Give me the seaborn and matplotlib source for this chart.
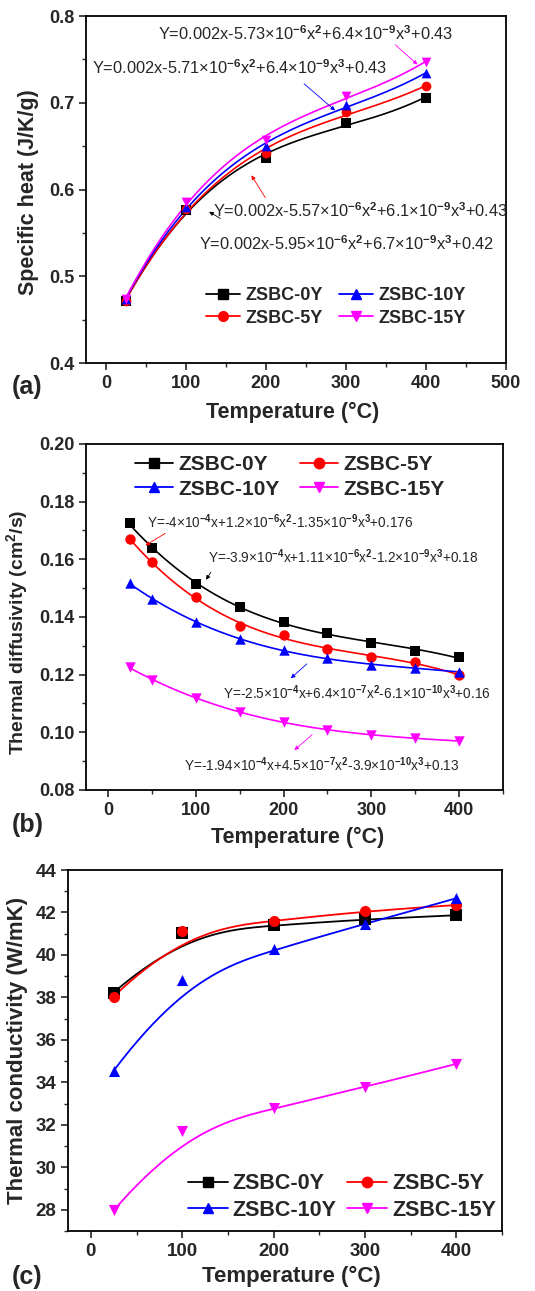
import numpy as np
import seaborn as sns
import matplotlib.pyplot as plt
from matplotlib.lines import Line2D
from matplotlib.ticker import MultipleLocator

sns.set_theme(style='ticks')
plt.rcParams['font.family'] = ['Liberation Sans', 'DejaVu Sans']
plt.rcParams['font.weight'] = 'bold'
plt.rcParams['axes.labelweight'] = 'bold'
plt.rcParams['mathtext.fontset'] = 'custom'
plt.rcParams['mathtext.rm'] = 'Liberation Sans'
plt.rcParams['mathtext.it'] = 'Liberation Sans:italic'
plt.rcParams['mathtext.bf'] = 'Liberation Sans:bold'

names = ['ZSBC-0Y', 'ZSBC-5Y', 'ZSBC-10Y', 'ZSBC-15Y']
colors = ['black', 'red', 'blue', 'magenta']
markers = ['s', 'o', '^', 'v']

# (a) specific heat
temp_a = [25, 100, 200, 300, 400]
cp_0y = [0.472, 0.576, 0.636, 0.677, 0.706]
cp_5y = [0.472, 0.577, 0.642, 0.689, 0.719]
cp_10y = [0.474, 0.580, 0.650, 0.697, 0.734]
cp_15y = [0.474, 0.586, 0.657, 0.708, 0.747]

# (b) thermal diffusivity
temp_b = [25, 50, 100, 150, 200, 250, 300, 350, 400]
td_0y = [0.1725, 0.1638, 0.1514, 0.1436, 0.1382, 0.1343, 0.1311, 0.1283, 0.1260]
td_5y = [0.1670, 0.1590, 0.1468, 0.1369, 0.1338, 0.1290, 0.1260, 0.1243, 0.1198]
td_10y = [0.1517, 0.1462, 0.1384, 0.1323, 0.1286, 0.1256, 0.1234, 0.1222, 0.1210]
td_15y = [0.1225, 0.1182, 0.1118, 0.1072, 0.1036, 0.1008, 0.0991, 0.0979, 0.0970]

# (c) thermal conductivity
temp_c = [25, 100, 200, 300, 400]
tc_0y = [38.23, 41.02, 41.40, 41.68, 41.87]
tc_5y = [38.04, 41.13, 41.60, 42.07, 42.35]
tc_10y = [34.55, 38.82, 40.27, 41.46, 42.67]
tc_15y = [27.97, 31.69, 32.78, 33.77, 34.87]

eq_a = ['Y=0.002x-5.95×10$^{-6}$x$^{2}$+6.7×10$^{-9}$x$^{3}$+0.42',
        'Y=0.002x-5.57×10$^{-6}$x$^{2}$+6.1×10$^{-9}$x$^{3}$+0.43',
        'Y=0.002x-5.71×10$^{-6}$x$^{2}$+6.4×10$^{-9}$x$^{3}$+0.43',
        'Y=0.002x-5.73×10$^{-6}$x$^{2}$+6.4×10$^{-9}$x$^{3}$+0.43']
eq_b = ['Y=-3.9×10$^{-4}$x+1.11×10$^{-6}$x$^{2}$-1.2×10$^{-9}$x$^{3}$+0.18',
        'Y=-4×10$^{-4}$x+1.2×10$^{-6}$x$^{2}$-1.35×10$^{-9}$x$^{3}$+0.176',
        'Y=-2.5×10$^{-4}$x+6.4×10$^{-7}$x$^{2}$-6.1×10$^{-10}$x$^{3}$+0.16',
        'Y=-1.94×10$^{-4}$x+4.5×10$^{-7}$x$^{2}$-3.9×10$^{-10}$x$^{3}$+0.13']


def bspline(xs, ys, n=200, k=3):
    # clamped B-spline using the data points as control points
    pts = np.column_stack([xs, ys]).astype(float)
    m = len(pts)
    knots = np.concatenate([np.zeros(k), np.linspace(0, 1, m - k + 1), np.ones(k)])
    u = np.linspace(0, 1, n)
    u[-1] -= 1e-9
    N = np.zeros((n, len(knots) - 1))
    for i in range(len(knots) - 1):
        N[:, i] = (knots[i] <= u) & (u < knots[i + 1])
    for d in range(1, k + 1):
        Nn = np.zeros((n, len(knots) - 1 - d))
        for i in range(len(knots) - 1 - d):
            a = knots[i + d] - knots[i]
            b = knots[i + d + 1] - knots[i + 1]
            left = (u - knots[i]) / a * N[:, i] if a > 0 else 0
            right = (knots[i + d + 1] - u) / b * N[:, i + 1] if b > 0 else 0
            Nn[:, i] = left + right
        N = Nn
    c = N @ pts
    return c[:, 0], c[:, 1]


def poly_curve(xs, ys):
    p = np.polyfit(xs, ys, 3)
    xx = np.linspace(min(xs), max(xs), 200)
    return xx, np.polyval(p, xx)


def draw_series(ax, xs, series, curve, ms, lw):
    for ys, c, m in zip(series, colors, markers):
        cx, cy = curve(xs, ys)
        sns.lineplot(x=cx, y=cy, color=c, lw=lw, ax=ax, sort=False, estimator=None)
        sns.scatterplot(x=xs, y=ys, color=c, marker=m, s=ms ** 2, edgecolor=c,
                        linewidth=0, ax=ax, zorder=3)


def style_axes(ax, xmaj, ymaj, fs):
    ax.xaxis.set_major_locator(MultipleLocator(xmaj))
    ax.xaxis.set_minor_locator(MultipleLocator(xmaj / 2))
    ax.yaxis.set_major_locator(MultipleLocator(ymaj))
    ax.yaxis.set_minor_locator(MultipleLocator(ymaj / 2))
    ax.tick_params(which='major', direction='out', length=5, width=1.2, labelsize=fs,
                   top=False, right=False)
    ax.tick_params(which='minor', direction='out', length=3, width=1.0, top=False, right=False)
    for lab in ax.get_xticklabels() + ax.get_yticklabels():
        lab.set_fontweight('bold')
    for s in ax.spines.values():
        s.set_linewidth(1.3)
        s.set_color('black')


def handles(order, ms):
    return [Line2D([], [], color=colors[i], marker=markers[i], ms=ms, lw=1.3,
                   label=names[i]) for i in order]


fig = plt.figure(figsize=(5.35, 12.91), dpi=100)

# ---------- (a)
ax = fig.add_axes([0.1607, 0.7188, 0.785, 0.2688])
draw_series(ax, temp_a, [cp_0y, cp_5y, cp_10y, cp_15y], poly_curve, 7, 1.2)
ax.set_xlim(-25, 500)
ax.set_ylim(0.4, 0.8)
style_axes(ax, 100, 0.1, 13)
ax.set_xlabel('Temperature (°C)', fontsize=15.5, fontweight='bold')
ax.set_ylabel('Specific heat (J/K/g)', fontsize=15.5, fontweight='bold')
ax.xaxis.label.set_va('center')
ax.yaxis.label.set_va('center')
ax.xaxis.set_label_coords(0.493, -0.141)
ax.yaxis.set_label_coords(-0.138, 0.493)
txt_a = [(116, 0.538), (134, 0.576), (-17, 0.741), (65, 0.780)]
arr_a = [((146, 0.565), (126, 0.576)), ((201, 0.588), (180, 0.619)),
         ((245, 0.724), (289, 0.689)), ((359, 0.769), (392, 0.742))]
for t, (p0, p1), c, pos in zip(eq_a, arr_a, colors, txt_a):
    ax.text(pos[0], pos[1], t, fontsize=11.8, fontweight='normal', va='center', ha='left')
    ax.annotate('', xy=p1, xytext=p0,
                arrowprops=dict(arrowstyle='-|>', color=c, lw=0.6, mutation_scale=6))
ax.legend(handles=handles([0, 1, 2, 3], 7), ncol=2, loc='upper left',
          bbox_to_anchor=(0.264, 0.244), frameon=False, fontsize=13, borderpad=0,
          handlelength=1.9, handletextpad=0.28, columnspacing=0.9, labelspacing=0.3)

# ---------- (b)
ax = fig.add_axes([0.1607, 0.3881, 0.7795, 0.268])
draw_series(ax, temp_b, [td_0y, td_5y, td_10y, td_15y], poly_curve, 7.5, 1.2)
ax.set_xlim(-25, 450)
ax.set_ylim(0.08, 0.20)
style_axes(ax, 100, 0.02, 13)
ax.set_xlabel('Temperature (°C)', fontsize=15.5, fontweight='bold')
ax.set_ylabel('Thermal diffusivity (cm$^{\\mathbf{2}}$/s)', fontsize=14, fontweight='bold')
ax.xaxis.label.set_va('center')
ax.yaxis.label.set_va('center')
ax.xaxis.set_label_coords(0.508, -0.136)
ax.yaxis.set_label_coords(-0.165, 0.457)
txt_b = [(114, 0.1608), (44, 0.1729), (131, 0.1136), (87, 0.0887)]
arr_b = [((119, 0.1563), (110, 0.1521)), ((68, 0.1695), (40, 0.1643)),
         ((229, 0.1244), (206, 0.1181)), ((235, 0.0998), (210, 0.0932))]
for t, (p0, p1), c, pos in zip(eq_b, arr_b, colors, txt_b):
    ax.text(pos[0], pos[1], t, fontsize=9.8, fontweight='normal', va='center', ha='left')
    ax.annotate('', xy=p1, xytext=p0,
                arrowprops=dict(arrowstyle='-|>', color=c, lw=0.6, mutation_scale=6))
ax.legend(handles=handles([0, 2, 1, 3], 7.5), ncol=2, loc='upper left',
          bbox_to_anchor=(0.0935, 0.997), frameon=False, fontsize=15, borderpad=0,
          handlelength=1.8, handletextpad=0.25, columnspacing=1.0, labelspacing=0.25)

# ---------- (c)
ax = fig.add_axes([0.1271, 0.0465, 0.8112, 0.2796])
draw_series(ax, temp_c, [tc_0y, tc_5y, tc_10y, tc_15y], bspline, 8, 1.3)
ax.set_xlim(-25, 450)
ax.set_ylim(27, 44)
style_axes(ax, 100, 2, 13.5)
ax.set_xlabel('Temperature (°C)', fontsize=16, fontweight='bold')
ax.set_ylabel('Thermal conductivity (W/mK)', fontsize=16, fontweight='bold')
ax.xaxis.label.set_va('center')
ax.yaxis.label.set_va('center')
ax.xaxis.set_label_coords(0.514, -0.127)
ax.yaxis.set_label_coords(-0.1175, 0.501)
ax.legend(handles=handles([0, 2, 1, 3], 7.5), ncol=2, loc='upper left',
          bbox_to_anchor=(0.251, 0.19), frameon=False, fontsize=15.5, borderpad=0,
          handlelength=1.85, handletextpad=0.23, columnspacing=0.5, labelspacing=0.25)

fig.text(0.022, 0.7002, '(a)', fontsize=18, fontweight='bold', va='center', ha='left')
fig.text(0.022, 0.361, '(b)', fontsize=18, fontweight='bold', va='center', ha='left')
fig.text(0.022, 0.0108, '(c)', fontsize=18, fontweight='bold', va='center', ha='left')

fig.savefig('out.png', dpi=100)
